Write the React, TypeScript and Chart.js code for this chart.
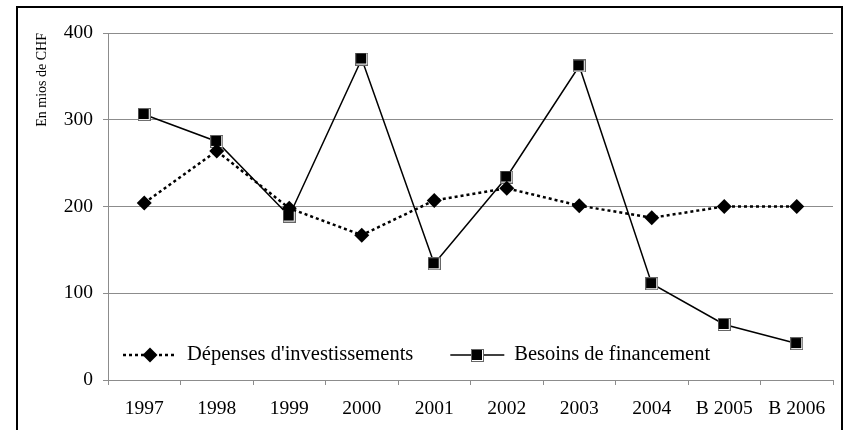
import React, { useEffect, useRef } from 'react';
import { Chart, registerables } from 'chart.js';

Chart.register(...registerables);

const categories = ['1997', '1998', '1999', '2000', '2001', '2002', '2003', '2004', 'B 2005', 'B 2006'];
const depenses = [204, 264, 198, 167, 207, 221, 201, 187, 200, 200];
const besoins = [306, 275, 189, 370, 134, 234, 362, 111, 64, 42];
const yTicks = [0, 100, 200, 300, 400];
const seriesLabels = ["Dépenses d'investissements", 'Besoins de financement'];
const yTitle = 'En mios de CHF';

const FONT = "'Liberation Serif', 'Times New Roman', serif";
const GRID = '#8c8c8c';

function makeSquare(): HTMLCanvasElement {
  const c = document.createElement('canvas');
  c.width = 13;
  c.height = 13;
  const g = c.getContext('2d')!;
  g.fillStyle = '#666';
  g.fillRect(0, 0, 13, 13);
  g.fillStyle = '#fff';
  g.fillRect(1, 1, 11, 11);
  g.fillStyle = '#000';
  g.fillRect(1, 1, 10, 10);
  return c;
}

const framePlugin = {
  id: 'frame',
  afterDraw(chart: any) {
    const ctx = chart.ctx;
    ctx.save();
    ctx.strokeStyle = '#000';
    ctx.lineWidth = 2;
    ctx.strokeRect(17, 7, 825, 440);
    ctx.restore();
  },
};

const legendPlugin = {
  id: 'insideLegend',
  afterDatasetsDraw(chart: any) {
    const { ctx, chartArea } = chart;
    const y = chartArea.bottom - 25;
    let x = chartArea.left + 15;
    ctx.save();
    ctx.font = `20.5px ${FONT}`;
    ctx.textBaseline = 'middle';
    ctx.textAlign = 'left';
    chart.data.datasets.forEach((ds: any) => {
      const lineLen = 54;
      ctx.beginPath();
      ctx.setLineDash(ds.borderDash || []);
      ctx.lineWidth = ds.borderWidth;
      ctx.strokeStyle = ds.borderColor;
      ctx.moveTo(x, y);
      ctx.lineTo(x + lineLen, y);
      ctx.stroke();
      ctx.setLineDash([]);
      const cx = x + lineLen / 2;
      if (typeof ds.pointStyle === 'string') {
        const r = ds.pointRadius;
        ctx.beginPath();
        ctx.moveTo(cx, y - r);
        ctx.lineTo(cx + r, y);
        ctx.lineTo(cx, y + r);
        ctx.lineTo(cx - r, y);
        ctx.closePath();
        ctx.fillStyle = ds.pointBackgroundColor;
        ctx.fill();
      } else {
        const img = ds.pointStyle as HTMLCanvasElement;
        ctx.drawImage(img, Math.round(cx - img.width / 2), Math.round(y - img.height / 2));
      }
      ctx.fillStyle = '#000';
      ctx.fillText(ds.label, x + lineLen + 10, y);
      x = x + lineLen + 10 + ctx.measureText(ds.label).width + 37;
    });
    ctx.restore();
  },
};

export default function App() {
  const ref = useRef<HTMLCanvasElement | null>(null);

  useEffect(() => {
    if (!ref.current) return;
    const square = makeSquare();
    const chart = new Chart(ref.current, {
      type: 'line',
      data: {
        labels: categories,
        datasets: [
          {
            label: seriesLabels[0],
            data: depenses,
            borderColor: '#000',
            borderWidth: 2.5,
            borderDash: [3, 3],
            pointStyle: 'rectRot',
            pointRadius: 7.5,
            pointHoverRadius: 7.5,
            pointBackgroundColor: '#000',
            pointBorderWidth: 0,
            tension: 0,
            fill: false,
          },
          {
            label: seriesLabels[1],
            data: besoins,
            borderColor: '#000',
            borderWidth: 1.5,
            pointStyle: square as any,
            pointRadius: 7,
            pointHoverRadius: 7,
            pointBackgroundColor: '#000',
            pointBorderWidth: 0,
            tension: 0,
            fill: false,
          },
        ],
      },
      options: {
        responsive: false,
        animation: false,
        layout: { padding: { top: 33, right: 15, left: 0, bottom: 0 } },
        plugins: {
          legend: { display: false },
          tooltip: { enabled: false },
        },
        scales: {
          x: {
            type: 'category',
            offset: true,
            afterFit(scale: any) {
              scale.height = 50;
            },
            grid: {
              display: true,
              drawOnChartArea: false,
              drawTicks: true,
              tickLength: 5,
              color: GRID,
              offset: true,
            },
            border: { display: true, color: GRID, width: 1 },
            ticks: {
              color: '#000',
              padding: 12,
              font: { family: FONT, size: 19.5 },
              maxRotation: 0,
              autoSkip: false,
            },
          },
          y: {
            min: 0,
            max: 400,
            afterFit(scale: any) {
              scale.width = 108;
            },
            afterBuildTicks(scale: any) {
              scale.ticks = yTicks.map((v) => ({ value: v }));
            },
            grid: {
              color: GRID,
              drawTicks: true,
              tickLength: 5,
              lineWidth: 1,
            },
            border: { display: true, color: GRID, width: 1 },
            ticks: {
              color: '#000',
              padding: 10,
              font: { family: FONT, size: 19.5 },
            },
            title: {
              display: true,
              text: yTitle,
              align: 'end',
              color: '#000',
              font: { family: FONT, size: 14 },
              padding: { top: 33.6, bottom: 0 },
            },
          },
        },
      },
      plugins: [legendPlugin, framePlugin],
    });
    return () => chart.destroy();
  }, []);

  return (
    <canvas
      ref={ref}
      width={848}
      height={430}
      style={{ position: 'absolute', left: 0, top: 0, display: 'block' }}
    />
  );
}
